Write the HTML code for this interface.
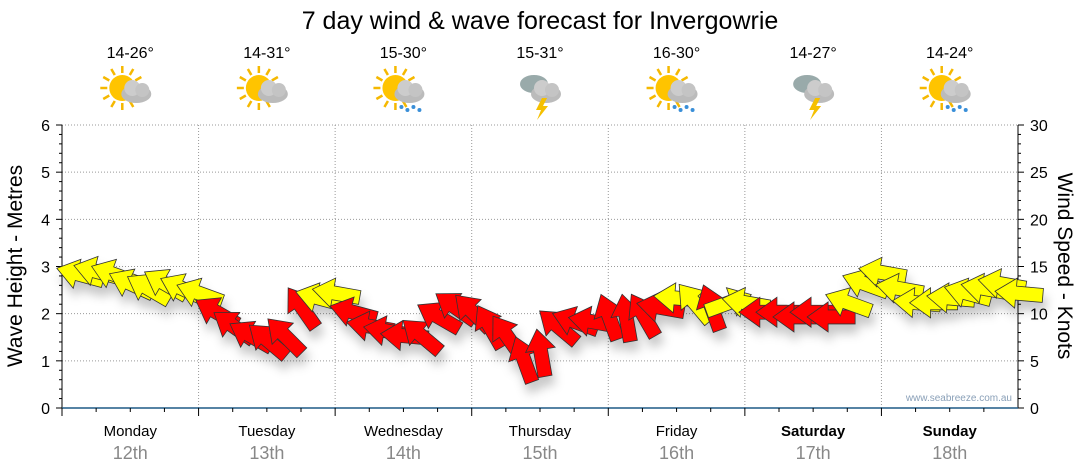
<!DOCTYPE html>
<html><head><meta charset="utf-8"><style>
body{margin:0;background:#fff;font-family:"Liberation Sans",sans-serif}
svg{display:block}
</style></head><body>
<svg id="c" width="1080" height="475">
<defs><filter id="sh" x="-30%" y="-30%" width="160%" height="180%"><feDropShadow dx="3" dy="9" stdDeviation="5" flood-color="#000" flood-opacity="0.22"/></filter></defs>
<text x="540" y="29" text-anchor="middle" font-size="25" fill="#000">7 day wind &amp; wave forecast for Invergowrie</text>
<g id="grid"></g><g id="axes"></g><g id="icons"></g><g id="arrows" filter="url(#sh)"></g>
<text transform="translate(22,266) rotate(-90)" text-anchor="middle" font-size="21">Wave Height - Metres</text>
<text transform="translate(1058,266) rotate(90)" text-anchor="middle" font-size="21">Wind Speed - Knots</text>
<text x="1012" y="401" text-anchor="end" font-size="10" fill="#8aa0b8">www.seabreeze.com.au</text>
</svg>
<script>
const days=["Monday","Tuesday","Wednesday","Thursday","Friday","Saturday","Sunday"];
const dates=["12th","13th","14th","15th","16th","17th","18th"];
const temps=["14-26°","14-31°","15-30°","15-31°","16-30°","14-27°","14-24°"];
const icons=["sun-cloud","sun-cloud","sun-rain","storm","sun-rain","storm","sun-rain"];
const waveTicks=[0,1,2,3,4,5,6];
const windTicks=[0,5,10,15,20,25,30];
const windSpeed=[15,15.3,15,14,13.5,14,13.5,13,
 11,9.5,8.5,8,8.5,11.5,12.5,13,
 11,9.5,9,8.5,8.5,10.5,11.5,11,
 9.5,8.5,6,6.7,9.5,10,10,10.5,
 10.4,10.7,11.5,12.5,12,11.5,12,12,
 11,11,10.5,11,10.5,12,14,15.2,
 13.5,12,12,12.5,13,13.5,14,13];
const windDir=[165,165,160,155,150,150,155,160,
 150,145,150,140,135,125,165,170,
 165,170,170,175,140,150,145,135,
 120,125,110,100,140,160,170,110,
 100,120,170,175,130,110,20,170,
 180,180,180,180,180,160,160,170,
 170,175,180,175,165,170,170,175];
const X0=62,X1=1018,Y0=408,Y1=125;
const NS="http://www.w3.org/2000/svg";
const svg=document.getElementById('c');
const xs=i=>X0+(X1-X0)*i/windSpeed.length;
const yw=v=>Y0-(Y0-Y1)*v/6;
const yk=v=>Y0-(Y0-Y1)*v/30;
const dayW=(X1-X0)/7;
function mk(t,a,p){const e=document.createElementNS(NS,t);for(const k in a)e.setAttribute(k,a[k]);(p||svg).appendChild(e);return e;}
const grid=document.getElementById('grid'),axes=document.getElementById('axes'),icg=document.getElementById('icons'),ar=document.getElementById('arrows');
waveTicks.forEach(v=>{
 if(v>0){const l=mk('line',{x1:X0,x2:X1,y1:yw(v),y2:yw(v),stroke:'#999','stroke-dasharray':'1,2'},grid);
 
 }
 const t=mk('text',{x:50,y:yw(v)+6,'text-anchor':'end','font-size':16},axes);t.textContent=v;
 
 
 mk('line',{x1:X0-6,x2:X0,y1:yw(v),y2:yw(v),stroke:'#000'},axes);
 if(v<6)for(let m=1;m<5;m++)mk('line',{x1:X0-3,x2:X0,y1:yw(v+m/5),y2:yw(v+m/5),stroke:'#000'},axes);
});
windTicks.forEach(v=>{
 const t=mk('text',{x:1030,y:yk(v)+6,'font-size':16},axes);t.textContent=v;
 
 
 mk('line',{x1:X1,x2:X1+6,y1:yk(v),y2:yk(v),stroke:'#000'},axes);
 if(v<30)for(let m=1;m<5;m++)mk('line',{x1:X1,x2:X1+3,y1:yk(v+m),y2:yk(v+m),stroke:'#000'},axes);
});
mk('line',{x1:X0,x2:X0,y1:Y1,y2:Y0,stroke:'#000'},axes);
mk('line',{x1:X1,x2:X1,y1:Y1,y2:Y0,stroke:'#000'},axes);
mk('line',{x1:X0,x2:X1,y1:Y0,y2:Y0,stroke:'#1f5a86','stroke-width':1.5},axes);
days.forEach((d,i)=>{
 const xa=X0+dayW*i,xc=xa+dayW/2;
 if(i>0){const g=mk('line',{x1:xa,x2:xa,y1:Y1,y2:Y0,stroke:'#999','stroke-dasharray':'1,2'},grid);
 
 }
 mk('line',{x1:xa,x2:xa,y1:Y0,y2:Y0+8,stroke:'#000'},axes);
 for(let q=1;q<4;q++)mk('line',{x1:xa+dayW*q/4,x2:xa+dayW*q/4,y1:Y0,y2:Y0+4,stroke:'#000'},axes);
 const w=(i>=5)?'bold':'normal';
 const t=mk('text',{x:xc,y:436,'text-anchor':'middle','font-size':15,'font-weight':w},axes);t.textContent=d;
 
 
 const t2=mk('text',{x:xc,y:459,'text-anchor':'middle','font-size':18,fill:'#888'},axes);t2.textContent=dates[i];
 
 
 const t3=mk('text',{x:xc,y:58,'text-anchor':'middle','font-size':16},icg);t3.textContent=temps[i];
 
 
 const g=mk('g',{transform:`translate(${xc},92)`},icg);
 
 
 const k=icons[i];
 if(k!=='storm'){for(let r=0;r<12;r++){const a=r*Math.PI/6;mk('line',{x1:-8+Math.cos(a)*15,y1:-4+Math.sin(a)*15,x2:-8+Math.cos(a)*22,y2:-4+Math.sin(a)*22,stroke:'#f5b800','stroke-width':2.5},g);}
  mk('circle',{cx:-8,cy:-4,r:13,fill:'#ffc400'},g);}
 else{mk('ellipse',{cx:-6,cy:-8,rx:14,ry:9,fill:'#9aa'},g);}
 mk('ellipse',{cx:6,cy:2,rx:15,ry:9,fill:'#bbb'},g);
 mk('circle',{cx:2,cy:-4,r:8,fill:'#ccc'},g);
 mk('circle',{cx:12,cy:-2,r:7,fill:'#c4c4c4'},g);
 if(k==='sun-rain')for(let r=0;r<4;r++)mk('circle',{cx:-2+r*6,cy:15+(r%2)*3,r:2,fill:'#3a8fd8'},g);
 if(k==='storm')mk('polygon',{points:'2,6 -4,18 1,18 -3,28 8,14 3,14 7,6',fill:'#f5c000'},g);
});
windSpeed.forEach((v,i)=>{
 const x=xs(i)+4,y=yk(v),col=v>=11.8?'#ffff00':'#ff0000';
 const p=mk('polygon',{points:'-24,0 -3,-15 -3,-7 24,-7 24,7 -3,7 -3,15',fill:col,stroke:'#333','stroke-width':0.8,transform:`translate(${x+14},${y+8}) rotate(${180-windDir[i]})`},ar);
 
 
});
</script>
</body></html>
